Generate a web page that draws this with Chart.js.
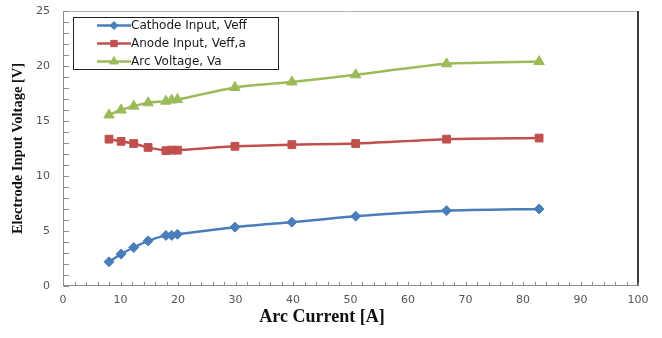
<!DOCTYPE html>
<html>
<head>
<meta charset="utf-8">
<script src="https://cdn.jsdelivr.net/npm/chart.js@4.4.1/dist/chart.umd.min.js"></script>
<style>
  html, body { margin: 0; padding: 0; background: #fff; }
  #wrap { width: 662px; height: 338px; }
</style>
</head>
<body>
<div id="wrap"><canvas id="myChart" width="662" height="338"></canvas></div>
<script>
// arc current [A]
const current = [8, 10.1, 12.3, 14.8, 17.9, 18.9, 19.9, 29.9, 39.8, 50.9, 66.7, 82.8];
// electrode input voltages [V]
const cathode = [2.2, 2.9, 3.5, 4.1, 4.6, 4.6, 4.7, 5.35, 5.8, 6.35, 6.85, 7.0];
const anode = [13.35, 13.15, 12.95, 12.6, 12.3, 12.35, 12.35, 12.7, 12.85, 12.95, 13.35, 13.45];
const arcV = [15.55, 16.0, 16.35, 16.65, 16.8, 16.9, 16.95, 18.05, 18.55, 19.2, 20.2, 20.4];

const xTicks = [0, 10, 20, 30, 40, 50, 60, 70, 80, 90, 100];
const yTicks = [0, 5, 10, 15, 20, 25];

const names = ['Cathode Input, Veff', 'Anode Input, Veff,a', 'Arc Voltage, Va'];
const colors = ['#4a7ebb', '#c0504d', '#9bbb59'];
const styles = ['rectRot', 'rect', 'triangle'];
const radii = [5, 5.5, 6];

function pts(ys) {
    return current.map((x, i) => ({ x: x, y: ys[i] }));
}

const series = [cathode, anode, arcV];

// frame + inward tick marks + x title (sits a bit left of centre in the original)
const framePlugin = {
    id: 'frame',
    afterDraw(chart) {
        const c = chart.ctx;
        const a = chart.chartArea;
        const xs = chart.scales.x, ys = chart.scales.y;
        const L = Math.round(a.left), R = Math.round(a.right);
        const T = Math.round(a.top), B = Math.round(a.bottom);
        c.save();
        c.lineWidth = 1;
        c.strokeStyle = '#b4b4b4';
        c.beginPath();
        c.moveTo(L, T + 0.5); c.lineTo(R, T + 0.5);
        c.stroke();
        c.strokeStyle = '#3a3a3a';
        c.lineWidth = 2;
        c.beginPath();
        c.moveTo(R, T); c.lineTo(R, B);
        c.stroke();
        c.lineWidth = 1;
        c.strokeStyle = '#8c8c8c';
        c.beginPath();
        c.moveTo(L + 0.5, T); c.lineTo(L + 0.5, B);
        c.moveTo(L, B - 0.5); c.lineTo(R, B - 0.5);
        for (let v = 0; v <= 25; v++) {
            const y = Math.round(ys.getPixelForValue(v)) + 0.5;
            c.moveTo(L + 0.5, y); c.lineTo(L + 6, y);
        }
        for (let v = 0; v <= 100; v += 2) {
            const x = Math.round(xs.getPixelForValue(v)) + 0.5;
            c.moveTo(x, B - 0.5); c.lineTo(x, B - 4);
        }
        c.stroke();
        c.fillStyle = '#111';
        c.font = 'bold 18px "Liberation Serif"';
        c.textAlign = 'center';
        c.textBaseline = 'middle';
        c.fillText('Arc Current [A]', 322, 317);
        c.restore();
    }
};

// legend box like the original, line sample with marker in the middle
const legendPlugin = {
    id: 'boxLegend',
    afterDraw(chart) {
        const c = chart.ctx;
        c.save();
        c.fillStyle = '#fff';
        c.fillRect(73, 17, 205, 52);
        c.strokeStyle = '#222';
        c.lineWidth = 1;
        c.strokeRect(73.5, 17.5, 205, 52);
        const rows = [25.5, 43.5, 61.5];
        for (let i = 0; i < 3; i++) {
            const y = rows[i];
            c.strokeStyle = colors[i];
            c.lineWidth = 2.5;
            c.beginPath();
            c.moveTo(97, y); c.lineTo(131, y);
            c.stroke();
            c.fillStyle = colors[i];
            c.lineWidth = 1;
            Chart.helpers.drawPoint(c, { pointStyle: styles[i], radius: radii[i] - 1, rotation: 0, borderWidth: 1 }, 114, y);
            c.fillStyle = '#1a1a1a';
            c.font = '12px "DejaVu Sans"';
            c.textBaseline = 'middle';
            c.fillText(names[i], 131, y);
        }
        c.restore();
    }
};

const ctx = document.getElementById('myChart');

new Chart(ctx, {
    type: 'line',
    data: {
        datasets: series.map((s, i) => ({
            label: names[i],
            data: pts(s),
            borderColor: colors[i],
            backgroundColor: colors[i],
            borderWidth: 2.5,
            pointStyle: styles[i],
            pointRadius: radii[i],
            pointBorderWidth: 1,
            tension: 0.2
        }))
    },
    options: {
        responsive: false,
        animation: false,
        layout: { padding: { top: 11, right: 24, left: 0, bottom: 0 } },
        plugins: {
            legend: { display: false },
            tooltip: { enabled: false }
        },
        scales: {
            x: {
                type: 'linear',
                min: 0,
                max: 100,
                afterFit: s => { s.height = 52; s.paddingLeft = 0; s.paddingRight = 0; },
                afterBuildTicks: s => { s.ticks = xTicks.map(v => ({ value: v })); },
                grid: { display: false, drawTicks: false },
                border: { display: false },
                ticks: {
                    padding: 8,
                    color: '#555',
                    font: { family: 'DejaVu Sans', size: 11 },
                    maxRotation: 0
                }
            },
            y: {
                min: 0,
                max: 25,
                afterFit: s => { s.width = 63; s.paddingTop = 0; s.paddingBottom = 0; },
                afterBuildTicks: s => { s.ticks = yTicks.map(v => ({ value: v })); },
                grid: { display: false, drawTicks: false },
                border: { display: false },
                ticks: {
                    padding: 13,
                    color: '#555',
                    font: { family: 'DejaVu Sans', size: 11 }
                },
                title: {
                    display: true,
                    text: 'Electrode Input Voltage [V]',
                    color: '#111',
                    font: { family: 'Liberation Serif', size: 14.5, weight: 'bold', lineHeight: 1 },
                    padding: { top: 11, bottom: 0 }
                }
            }
        }
    },
    plugins: [framePlugin, legendPlugin]
});
</script>
</body>
</html>
